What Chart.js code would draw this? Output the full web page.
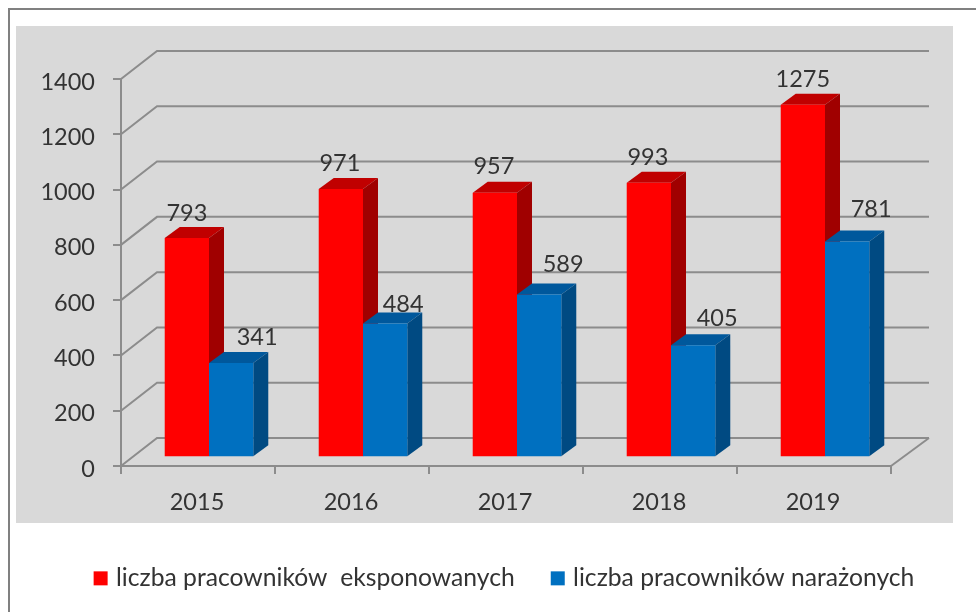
<!DOCTYPE html>
<html lang="pl">
<head>
<meta charset="utf-8">
<title>Liczba pracowników</title>
<script src="https://cdn.jsdelivr.net/npm/chart.js@4"></script>
<style>
  html, body { margin: 0; padding: 0; background: #fff; width: 976px; height: 612px; overflow: hidden; }
  #frameTop { position: absolute; left: 8px; top: 8px; width: 968px; height: 2px; background: #808080; }
  #frameLeft { position: absolute; left: 8px; top: 8px; width: 2px; height: 604px; background: #808080; }
  #panel { position: absolute; left: 16px; top: 26px; width: 937px; height: 497px; background: #d9d9d9; }
  canvas { position: absolute; left: 0; top: 0; filter: blur(0.45px); }
</style>
</head>
<body>
<div id="frameTop"></div>
<div id="frameLeft"></div>
<div id="panel"></div>
<canvas id="c" width="976" height="612"></canvas>
<script>
const categories = ['2015', '2016', '2017', '2018', '2019'];
const exposedValues = [793, 971, 957, 993, 1275];
const endangeredValues = [341, 484, 589, 405, 781];
const exposedName = 'liczba pracowników  eksponowanych';
const endangeredName = 'liczba pracowników narażonych';

const exposedLabelOffsets = [[0, -25], [-1, -25], [-1, -26], [-1, -25], [0, -25]];
const endangeredLabelOffsets = [[26, -26], [18, -19], [24, -30], [24, -27], [24, -32]];

const faces = [
  { front: '#ff0000', top: '#c00000', side: '#a00000' },
  { front: '#0070c0', top: '#00589c', side: '#004a82' }
];
const wall = { dx: 36, dxRight: 38, dy: -28 };  // back wall depth
const plane = { dx: 11, dy: -8.7 };     // bars stand inside the floor
const depth = { dx: 15, dy: -11 };      // bar depth
const lineColor = '#8c8c8c';
const textColor = '#333333';
const fontFamily = 'Lato, "Open Sans", sans-serif';

const threeD = {
  id: 'threeD',
  afterLayout(chart) {
    const legend = chart.legend;
    legend.left = 36;
    legend.right = 976;
    legend.top = 526;
    legend.bottom = 612;
  },
  beforeDatasetsDraw(chart) {
    const { ctx, scales: { x, y } } = chart;
    ctx.save();
    ctx.strokeStyle = lineColor;
    ctx.lineWidth = 2;
    y.ticks.forEach(t => {
      const py = y.getPixelForValue(t.value);
      ctx.beginPath();
      ctx.moveTo(x.left, py);
      ctx.lineTo(x.left + wall.dx, py + wall.dy);
      ctx.lineTo(x.right + wall.dxRight, py + wall.dy);
      ctx.stroke();
    });
    ctx.beginPath();
    ctx.moveTo(x.right, y.bottom);
    ctx.lineTo(x.right + wall.dxRight, y.bottom + wall.dy);
    ctx.stroke();
    ctx.restore();
    ctx.save();
    ctx.translate(plane.dx, plane.dy);
    // All tops and sides go first: the fronts the library draws then cover them.
    faces.forEach((colors, ds) => {
      chart.getDatasetMeta(ds).data.forEach(bar => {
        const p = bar.getProps(['x', 'y', 'base', 'width']);
        const l = p.x - p.width / 2, r = p.x + p.width / 2;
        ctx.fillStyle = colors.top;
        ctx.beginPath();
        ctx.moveTo(l, p.y);
        ctx.lineTo(l + depth.dx, p.y + depth.dy);
        ctx.lineTo(r + depth.dx, p.y + depth.dy);
        ctx.lineTo(r, p.y);
        ctx.closePath();
        ctx.fill();
        ctx.fillStyle = colors.side;
        ctx.beginPath();
        ctx.moveTo(r, p.y);
        ctx.lineTo(r + depth.dx, p.y + depth.dy);
        ctx.lineTo(r + depth.dx, p.base + depth.dy);
        ctx.lineTo(r, p.base);
        ctx.closePath();
        ctx.fill();
      });
    });
  },
  afterDatasetsDraw(chart) {
    const { ctx } = chart;
    ctx.font = '23.5px ' + fontFamily;
    ctx.fillStyle = textColor;
    ctx.textAlign = 'center';
    ctx.textBaseline = 'middle';
    [exposedLabelOffsets, endangeredLabelOffsets].forEach((offsets, ds) => {
      chart.getDatasetMeta(ds).data.forEach((bar, i) => {
        const value = chart.data.datasets[ds].data[i];
        ctx.fillText(String(value), bar.x + offsets[i][0], bar.y + offsets[i][1]);
      });
    });
    ctx.restore();
  }
};

new Chart(document.getElementById('c'), {
  type: 'bar',
  data: {
    labels: categories,
    datasets: [
      { label: exposedName, data: exposedValues, backgroundColor: faces[0].front, clip: false },
      { label: endangeredName, data: endangeredValues, backgroundColor: faces[1].front, clip: false }
    ]
  },
  options: {
    responsive: false,
    animation: false,
    events: [],
    layout: { padding: { left: 0, right: 0, top: 79, bottom: 0 } },
    datasets: { bar: { categoryPercentage: 0.575, barPercentage: 1 } },
    scales: {
      x: {
        grid: { drawOnChartArea: false, color: lineColor, lineWidth: 2, tickLength: 8, offset: true },
        border: { color: lineColor, width: 2 },
        ticks: { color: textColor, font: { family: fontFamily, size: 23.5 }, padding: 14, labelOffset: -1, maxRotation: 0, autoSkip: false },
        afterFit(scale) { scale.height = 126; }
      },
      y: {
        min: 0,
        max: 1400,
        grid: { drawOnChartArea: false, color: lineColor, lineWidth: 2, tickLength: 8 },
        border: { color: lineColor, width: 2 },
        ticks: { stepSize: 200, color: textColor, font: { family: fontFamily, size: 23.5 }, padding: 18, labelOffset: 3, callback: v => String(v) },
        afterFit(scale) { scale.width = 121; }
      },
      // an empty right-hand axis reserves the space beside the plot, leaving the legend the full width
      rightSpace: {
        type: 'linear',
        axis: 'y',
        position: 'right',
        grid: { display: false },
        border: { display: false },
        ticks: { display: false },
        afterFit(scale) { scale.width = 85; }
      }
    },
    plugins: {
      tooltip: { enabled: false },
      legend: {
        position: 'bottom',
        align: 'center',
        maxHeight: 20,
        labels: {
          // a small box with a thick same-colour outline keeps the text close to the swatch
          boxWidth: 6,
          boxHeight: 6,
          padding: 40,
          color: textColor,
          font: { family: fontFamily, size: 24.7 },
          generateLabels(chart) {
            return Chart.defaults.plugins.legend.labels.generateLabels(chart)
              .map(item => ({ ...item, lineWidth: 8, strokeStyle: item.fillStyle }));
          }
        }
      }
    }
  },
  plugins: [threeD]
});
</script>
</body>
</html>
